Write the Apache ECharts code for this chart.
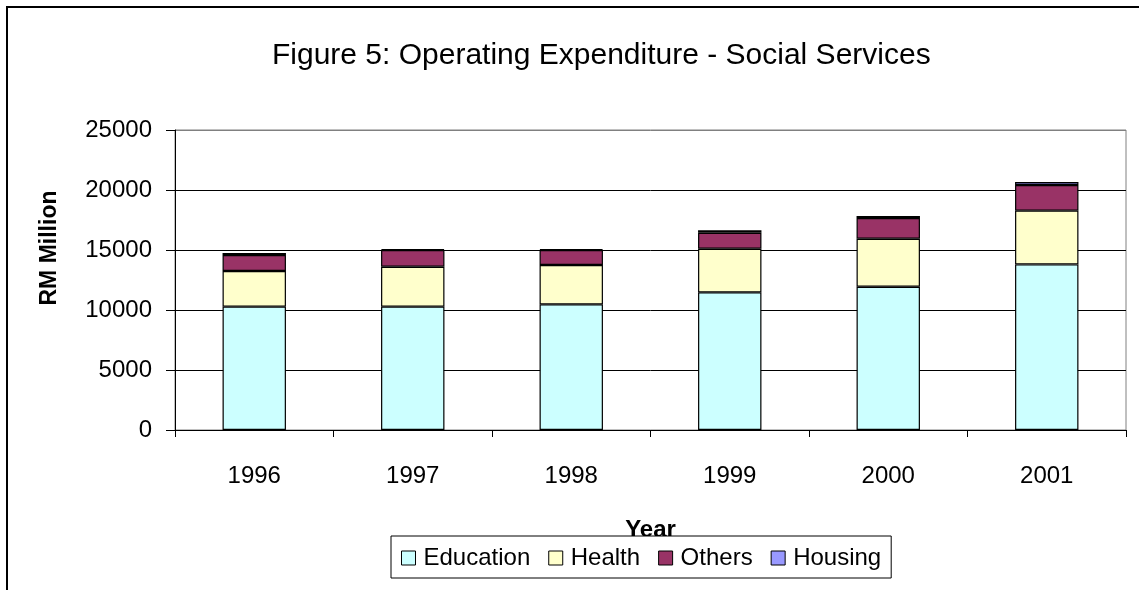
<!DOCTYPE html>
<html>
<head>
<meta charset="utf-8">
<script src="https://cdn.jsdelivr.net/npm/echarts@6/dist/echarts.min.js"></script>
<style>
  html, body { margin: 0; padding: 0; background: #fff; }
  #chart { width: 1139px; height: 590px; }
</style>
</head>
<body>
<div id="chart"></div>
<script>
// Operating expenditure on social services, RM million
const years = ['1996', '1997', '1998', '1999', '2000', '2001'];
const education = [10280, 10280, 10470, 11470, 11940, 13800];
const health = [2970, 3330, 3280, 3640, 4000, 4480];
const others = [1330, 1390, 1250, 1330, 1730, 2140];
const housing = [170, 60, 60, 200, 170, 250];

const FONT = "'Liberation Sans', Arial, sans-serif";

function stackSeries(name, data, color) {
  return {
    name: name,
    type: 'bar',
    stack: 'total',
    data: data,
    barWidth: '40%',
    itemStyle: { color: color, borderColor: '#000', borderWidth: 1.2 }
  };
}

const chart = echarts.init(document.getElementById('chart'), null, { renderer: 'canvas' });
chart.setOption({
  animation: false,
  backgroundColor: '#fff',
  textStyle: { fontFamily: FONT, color: '#000' },
  title: {
    text: 'Figure 5: Operating Expenditure - Social Services',
    left: 267,
    top: 36,
    textStyle: { fontFamily: FONT, fontSize: 30, fontWeight: 'normal', color: '#000' }
  },
  graphic: [{
    type: 'rect',
    z: -1,
    shape: { x: 7, y: 7, width: 1300, height: 700 },
    style: { fill: 'none', stroke: '#000', lineWidth: 2 }
  }],
  legend: {
    top: 536,
    left: 391,
    data: ['Education', 'Health', 'Others', 'Housing'],
    itemWidth: 14,
    itemHeight: 14,
    itemGap: 18,
    icon: 'rect',
    borderColor: '#000',
    borderWidth: 1,
    padding: [10, 10, 8, 10],
    backgroundColor: '#fff',
    z: 10,
    itemStyle: { borderColor: '#000', borderWidth: 1 },
    textStyle: { fontFamily: FONT, fontSize: 24, color: '#000', padding: [0, 0, 0, 3] }
  },
  grid: {
    left: 175,
    right: 13,
    top: 130,
    bottom: 160,
    show: true,
    borderColor: '#808080',
    borderWidth: 1
  },
  xAxis: {
    type: 'category',
    data: years,
    name: 'Year',
    nameLocation: 'middle',
    nameGap: 88,
    nameTextStyle: { fontFamily: FONT, fontSize: 24, fontWeight: 'bold', color: '#000' },
    axisLine: { lineStyle: { color: '#000', width: 1 } },
    axisTick: { show: true, length: 7, lineStyle: { color: '#000' } },
    axisLabel: { margin: 34, fontFamily: FONT, fontSize: 24, color: '#000' }
  },
  yAxis: {
    type: 'value',
    min: 0,
    max: 25000,
    interval: 5000,
    name: 'RM Million',
    nameLocation: 'middle',
    nameGap: 114,
    nameTextStyle: {
      fontFamily: FONT, fontSize: 23, fontWeight: 'bold', color: '#000',
      padding: [0, 0, 0, 64]
    },
    axisLine: { show: true, lineStyle: { color: '#000', width: 1 } },
    axisTick: { show: true, length: 9, lineStyle: { color: '#000' } },
    axisLabel: {
      margin: 23, fontFamily: FONT, fontSize: 24, color: '#000',
      formatter: function (v) { return String(v); }
    },
    splitLine: {
      show: true,
      lineStyle: { color: ['#000', '#000', '#000', '#000', '#000', '#808080'], width: 1 }
    }
  },
  series: [
    stackSeries('Education', education, '#CCFFFF'),
    stackSeries('Health', health, '#FFFFCC'),
    stackSeries('Others', others, '#993366'),
    stackSeries('Housing', housing, '#9999FF')
  ]
});
</script>
</body>
</html>
